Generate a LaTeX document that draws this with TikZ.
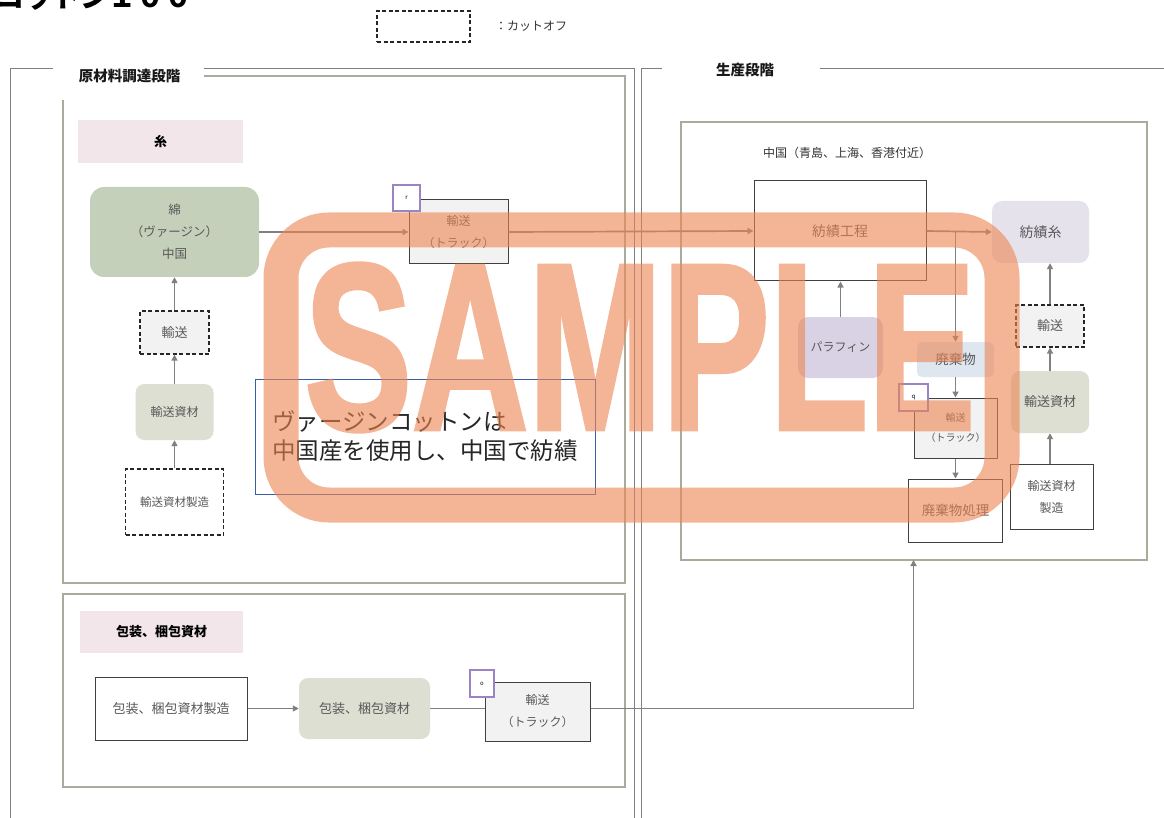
\documentclass[tikz,border=0pt]{standalone}
\usepackage{fontspec}
\setmainfont{Noto Sans CJK JP}
\newfontfamily\wmfont{Liberation Sans}[FakeBold=2]
\usetikzlibrary{arrows.meta}
\newcommand\fsz[2]{\fontsize{#1pt}{#2pt}\selectfont}
\definecolor{txt}{HTML}{595959}
\definecolor{frameg}{HTML}{A8AD9B}
\definecolor{framed}{HTML}{7F7F7F}
\definecolor{pinkh}{HTML}{F2E6EA}
\definecolor{greenA}{HTML}{C5D0BA}
\definecolor{greenB}{HTML}{DCDFD1}
\definecolor{grayF}{HTML}{F2F2F2}
\definecolor{lavA}{HTML}{E5E2EC}
\definecolor{lavB}{HTML}{D9D2E5}
\definecolor{blueL}{HTML}{DEE6F0}
\definecolor{purp}{HTML}{9A84C4}
\definecolor{noteb}{HTML}{3A5DA8}
\definecolor{wm}{HTML}{EE8552}
\definecolor{arrc}{HTML}{808080}
\tikzset{
  sz/.style 2 args={minimum width=#1, minimum height=#2},
  base/.style={inner sep=0pt, align=center, text=txt, font=\fsz{13}{22}},
  plainbox/.style={base, draw=black!75, line width=1pt, fill=white},
  dashbox/.style={base, draw=black!85, line width=1.2pt, dash pattern=on 4pt off 2.5pt, fill=grayF},
  truckbox/.style={base, draw=black!75, line width=1pt, fill=grayF},
  softbox/.style={base, rounded corners=9pt, draw=none},
  hdr/.style={inner sep=0pt, fill=pinkh, font=\bfseries\fsz{13}{16}, text=black},
  tagbox/.style={draw=purp, line width=1.5pt, fill=white, inner sep=0pt, font=\fsz{6}{7}, text=black},
  arr/.style={draw=arrc, line width=1.7pt, -{Triangle[length=6pt,width=6pt]}},
  lin/.style={draw=arrc, line width=1.7pt},
  frameD/.style={draw=framed, line width=1pt},
  frameG/.style={draw=frameg, line width=1.5pt},
}
\begin{document}
\begin{tikzpicture}[x=1pt,y=-1pt]
\useasboundingbox (0,0) rectangle (1164,818);
\clip (0,0) rectangle (1164,818);
\fill[white] (0,0) rectangle (1164,818);

% title and legend
\node[anchor=base west, inner sep=0pt, font=\bfseries\fsz{28}{30}, text=black] (title) at (-4,8) {コットン１００};
\node[draw=black!85, line width=1.2pt, dash pattern=on 4pt off 2.5pt, sz={93pt}{31pt}, inner sep=0pt] (legend) at (423.5,26.5) {};
\node[anchor=west, inner sep=0pt, font=\fsz{12}{14}, text=black!80] (legendtext) at (495,26) {：カットオフ};

% frames
\draw[frameD] (10,830) -- (10,69) -- (634,69) -- (634,830);
\draw[frameG] (63,76) rectangle (625,583);
\draw[frameG] (63,594) rectangle (625,787);
\draw[frameD] (641,830) -- (641,69) -- (1170,69);
\draw[frameG] (681,122) rectangle (1147,560);
\fill[white] (53,58) rectangle (204,100);
\fill[white] (662,58) rectangle (820,90);
\node[font=\bfseries\fsz{14.5}{16}, text=black!90, inner sep=0pt] (stage1) at (129.5,76) {原材料調達段階};
\node[font=\bfseries\fsz{14.5}{16}, text=black!90, inner sep=0pt] (stage2) at (745,70) {生産段階};

% left: yarn
\node[hdr, sz={165pt}{43pt}] (hdrA) at (160.5,141.5) {糸};
\node[softbox, fill=greenA, rounded corners=14pt, sz={169pt}{90pt}, font=\fsz{12.5}{22}] (cotton) at (174.5,232) {綿\\（ヴァージン）\\中国};
\node[dashbox, sz={69pt}{43pt}] (tr1) at (174.5,332.5) {輸送};
\node[softbox, fill=greenB, sz={78pt}{56pt}, font=\fsz{12}{14}] (mat1) at (174.5,412) {輸送資材};
\node[dashbox, fill=white, sz={98pt}{66pt}, font=\fsz{11.5}{14}] (mfg1) at (174.5,502) {輸送資材製造};
\node[truckbox, sz={99pt}{64pt}, font=\fsz{12}{22}] (truckA) at (458.5,232) {輸送\\（トラック）};
\node[tagbox, sz={27pt}{26pt}] (tagR) at (406.5,198) {r};
\node[draw=noteb, line width=1pt, sz={340pt}{115pt}, inner sep=0pt, align=left, font=\fsz{23.5}{29}, text=black!85] (note) at (425,436.5) {ヴァージンコットンは\\中国産を使用し、中国で紡績};

% left: packaging
\node[hdr, sz={163pt}{42pt}] (hdrB) at (161.5,632) {包装、梱包資材};
\node[plainbox, sz={152pt}{63pt}] (pkmfg) at (171,708.5) {包装、梱包資材製造};
\node[softbox, fill=greenB, sz={131pt}{61pt}] (pkmat) at (364.5,708.5) {包装、梱包資材};
\node[truckbox, sz={105pt}{59pt}, font=\fsz{12}{22}] (truckB) at (537.5,711.5) {輸送\\（トラック）};
\node[tagbox, sz={24pt}{27pt}] (tagO) at (482,683.5) {o};

% right: production
\node[anchor=west, inner sep=0pt, font=\fsz{12}{14}, text=black!80] (cnlabel) at (763,153) {中国（青島、上海、香港付近）};
\node[plainbox, sz={172pt}{100pt}, font=\fsz{14}{16}] (spin) at (840,231) {紡績工程};
\node[softbox, fill=lavA, rounded corners=10pt, sz={97pt}{62pt}, font=\fsz{14}{16}] (yarn) at (1040.5,232) {紡績糸};
\node[softbox, fill=lavB, rounded corners=10pt, sz={85pt}{61pt}, font=\fsz{12}{14}] (paraffin) at (840.5,347.5) {パラフィン};
\node[softbox, fill=blueL, rounded corners=5pt, sz={77pt}{35pt}, font=\fsz{13.5}{16}] (waste) at (955.5,359.5) {廃棄物};
\node[truckbox, sz={83pt}{60pt}, font=\fsz{10}{20}] (truckC) at (955.5,428) {輸送\\（トラック）};
\node[tagbox, sz={29pt}{27pt}] (tagQ) at (913.5,397.5) {q};
\node[plainbox, sz={94pt}{63pt}, font=\fsz{13.5}{16}] (wproc) at (955.5,510.5) {廃棄物処理};
\node[dashbox, sz={68pt}{42pt}] (tr2) at (1050,326) {輸送};
\node[softbox, fill=greenB, sz={78pt}{62pt}] (mat2) at (1050,402) {輸送資材};
\node[plainbox, sz={83pt}{65pt}, font=\fsz{12}{22}] (mfg2) at (1051.5,496.5) {輸送資材\\製造};

% connectors
\draw[arr] (mfg1.north) -- (mat1.south);
\draw[arr] (mat1.north) -- (tr1.south);
\draw[arr] (tr1.north) -- (cotton.south);
\draw[arr] (cotton.east) -- (truckA.west);
\draw[arr] (truckA.east) -- (spin.west);
\draw[arr] (spin.east) -- (yarn.west);
\draw[arr] (waste.north |- spin.east) -- (waste.north);
\draw[arr] (paraffin.north) -- (paraffin.north |- spin.south);
\draw[arr] (waste.south) -- (truckC.north);
\draw[arr] (truckC.south) -- (wproc.north);
\draw[arr] (tr2.south |- mfg2.north) -- (mat2.south);
\draw[arr] (mat2.north) -- (tr2.south);
\draw[arr] (tr2.north) -- (tr2.north |- yarn.south);
\draw[arr] (pkmfg.east) -- (pkmat.west);
\draw[lin] (pkmat.east) -- (pkmat.east -| truckB.west);
\draw[arr] (truckB.east |- pkmat.east) -| (truckC.west |- 0,560);

% watermark
\begin{scope}[transparency group, opacity=0.6]
\draw[draw=wm, line width=35pt, rounded corners=48pt] (281,230) rectangle (1002,505);
\node[inner sep=0pt, text=wm] (sample) at (640,347.5) {\resizebox{670pt}{165pt}{\wmfont\bfseries SAMPLE}};
\end{scope}
\end{tikzpicture}
\end{document}
